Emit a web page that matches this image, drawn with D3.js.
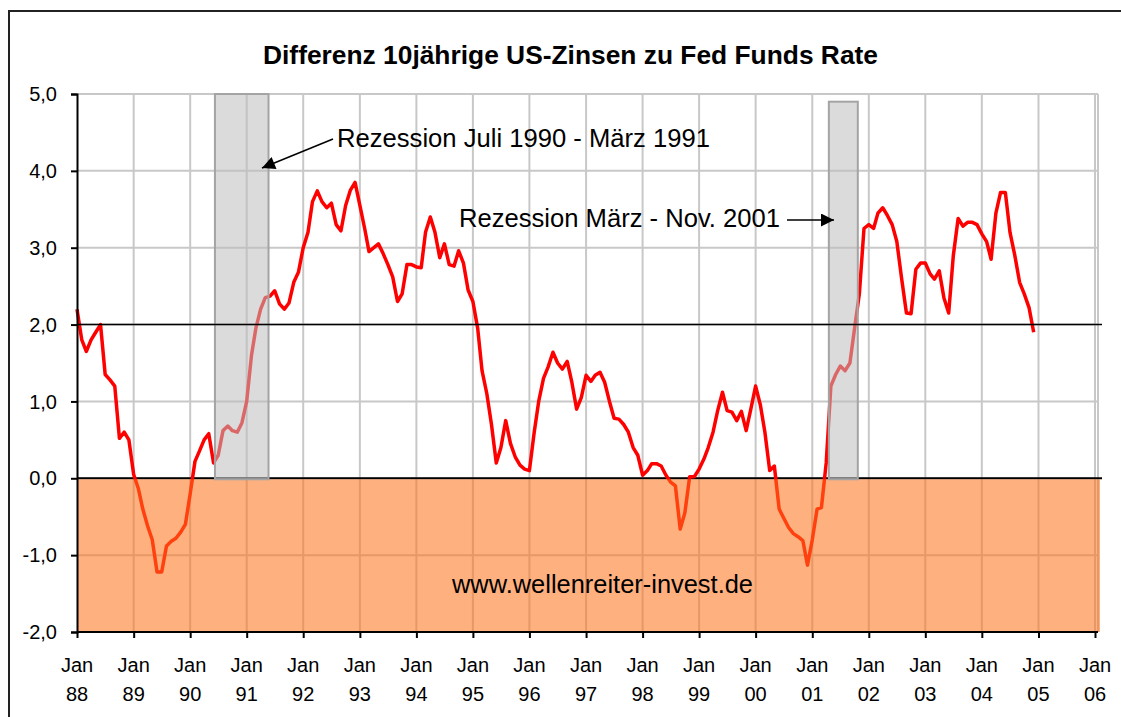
<!DOCTYPE html>
<html lang="de">
<head>
<meta charset="utf-8">
<title>Differenz 10jährige US-Zinsen zu Fed Funds Rate</title>
<script src="https://cdn.jsdelivr.net/npm/d3@7"></script>
<style>
  body { margin: 0; background: #fff; }
  text { font-family: "Liberation Sans", Arial, sans-serif; fill: #000; }
</style>
</head>
<body>
<script>

// Differenz 10J-Rendite minus Fed Funds, Monatswerte ab Jan 1988
var startYear = 1988;
var spread = [
  2.2, 1.8, 1.65, 1.8, 1.9, 2.0, 1.35, 1.28, 1.2, 0.52, 0.6, 0.5,            // 1988
  0.05, -0.14, -0.4, -0.62, -0.8, -1.22, -1.22, -0.88, -0.82, -0.78, -0.7, -0.6, // 1989
  -0.2, 0.22, 0.35, 0.5, 0.58, 0.2, 0.3, 0.62, 0.68, 0.62, 0.6, 0.72,        // 1990
  1.0, 1.6, 1.95, 2.2, 2.35, 2.37, 2.44, 2.27, 2.2, 2.28, 2.55, 2.68,        // 1991
  3.0, 3.2, 3.6, 3.74, 3.6, 3.52, 3.58, 3.3, 3.22, 3.55, 3.75, 3.85,         // 1992
  3.55, 3.25, 2.95, 3.0, 3.05, 2.92, 2.78, 2.62, 2.3, 2.4, 2.78, 2.78,       // 1993
  2.75, 2.74, 3.2, 3.4, 3.2, 2.87, 3.05, 2.78, 2.76, 2.96, 2.8, 2.45,        // 1994
  2.3, 1.95, 1.4, 1.1, 0.7, 0.2, 0.4, 0.75, 0.45, 0.28, 0.17, 0.12,          // 1995
  0.1, 0.6, 1.0, 1.3, 1.45, 1.64, 1.5, 1.42, 1.52, 1.25, 0.9, 1.05,          // 1996
  1.34, 1.26, 1.34, 1.38, 1.25, 1.0, 0.78, 0.77, 0.7, 0.6, 0.4, 0.3,         // 1997
  0.04, 0.1, 0.19, 0.19, 0.16, 0.04, -0.05, -0.1, -0.66, -0.45, 0.02, 0.02,  // 1998
  0.12, 0.25, 0.4, 0.6, 0.88, 1.12, 0.88, 0.86, 0.75, 0.87, 0.62, 0.9,       // 1999
  1.2, 0.95, 0.6, 0.1, 0.16, -0.4, -0.52, -0.64, -0.72, -0.76, -0.81, -1.13, // 2000
  -0.8, -0.4, -0.38, 0.2, 1.2, 1.35, 1.46, 1.4, 1.5, 1.95, 2.4, 3.25,        // 2001
  3.3, 3.25, 3.45, 3.52, 3.42, 3.3, 3.08, 2.6, 2.15, 2.14, 2.72, 2.8,        // 2002
  2.8, 2.66, 2.59, 2.7, 2.35, 2.15, 2.9, 3.38, 3.28, 3.33, 3.33, 3.3,        // 2003
  3.18, 3.08, 2.85, 3.45, 3.72, 3.72, 3.2, 2.9, 2.55, 2.4, 2.22, 1.9         // 2004
];

var yTicks = [5, 4, 3, 2, 1, 0, -1, -2];
var xYears = d3.range(1988, 2007);   // Jan 88 ... Jan 06

// Rezessionsbalken (wie im Bild gezeichnet)
var recessionStart = ["1990-06-10", "2001-04-18"];
var recessionEnd   = ["1991-05-22", "2001-10-22"];
var recessionTop   = [5.0, 4.9];

var chartTitle = "Differenz 10jährige US-Zinsen zu Fed Funds Rate";
var note1 = "Rezession Juli 1990 - März 1991";
var note2 = "Rezession März - Nov. 2001";
var watermark = "www.wellenreiter-invest.de";

var w = 1121, h = 717;
var pLeft = 77, pRight = 1098, pTop = 94, pBottom = 632;

var data = spread.map(function(v, i) {
  return { date: new Date(startYear, i, 1), v: v };
});

var x = d3.scaleTime()
          .domain([new Date(1988, 0, 1), new Date(2006, 0, 1)])
          .range([pLeft, 1095]);
var y = d3.scaleLinear().domain([-2, 5]).range([pBottom, pTop]);
var parse = d3.timeParse("%Y-%m-%d");

var svg = d3.select("body").append("svg")
            .attr("width", w)
            .attr("height", h);

svg.append("rect").attr("width", w).attr("height", h).attr("fill", "#fff");

// outer frame (runs off the right and bottom edge)
svg.append("path")
   .attr("d", "M9," + h + "V11H" + w)
   .attr("fill", "none")
   .attr("stroke", "#222")
   .attr("stroke-width", 2);

//Gridlines
svg.append("g").selectAll("line")
   .data(yTicks.filter(function(d) { return d > -2; }))
   .enter().append("line")
   .attr("x1", pLeft).attr("x2", pRight)
   .attr("y1", function(d) { return y(d); })
   .attr("y2", function(d) { return y(d); })
   .attr("stroke", "#c8c8c8").attr("stroke-width", 2);

svg.append("g").selectAll("line")
   .data(xYears.slice(1))
   .enter().append("line")
   .attr("x1", function(d) { return x(new Date(d, 0, 1)); })
   .attr("x2", function(d) { return x(new Date(d, 0, 1)); })
   .attr("y1", pTop).attr("y2", pBottom)
   .attr("stroke", "#c8c8c8").attr("stroke-width", 2);

svg.append("line")
   .attr("x1", pRight).attr("x2", pRight).attr("y1", pTop).attr("y2", pBottom)
   .attr("stroke", "#c8c8c8").attr("stroke-width", 2);

// zero line
svg.append("line")
   .attr("x1", pLeft).attr("x2", 1102)
   .attr("y1", y(0)).attr("y2", y(0))
   .attr("stroke", "#000").attr("stroke-width", 2);

// the spread
var line = d3.line()
             .x(function(d) { return x(d.date); })
             .y(function(d) { return y(d.v); });

svg.append("path")
   .datum(data)
   .attr("d", line)
   .attr("fill", "none")
   .attr("stroke", "#ff0000")
   .attr("stroke-width", 3.5)
   .attr("stroke-linejoin", "round");

// negative zone, semi transparent over the line
svg.append("rect")
   .attr("x", pLeft)
   .attr("y", y(0) + 1)
   .attr("width", 1100 - pLeft)
   .attr("height", pBottom - y(0) - 1)
   .attr("fill", "rgb(255,114,27)")
   .attr("fill-opacity", 0.56);

// recession bars
svg.append("g").selectAll("rect")
   .data(recessionStart)
   .enter().append("rect")
   .attr("x", function(d) { return x(parse(d)); })
   .attr("y", function(d, i) { return y(recessionTop[i]); })
   .attr("width", function(d, i) { return x(parse(recessionEnd[i])) - x(parse(d)); })
   .attr("height", function(d, i) { return y(0) + 1 - y(recessionTop[i]); })
   .attr("fill", "rgb(190,190,190)")
   .attr("fill-opacity", 0.55)
   .attr("stroke", "#a4a4a4")
   .attr("stroke-width", 2);

// 2,0 reference line
svg.append("line")
   .attr("x1", pLeft).attr("x2", 1102)
   .attr("y1", y(2)).attr("y2", y(2))
   .attr("stroke", "#000").attr("stroke-width", 1.5);

//Axes
var fmt = function(d) { return d3.format(".1f")(d).replace(".", ",").replace("\u2212", "-"); };

var yAxis = svg.append("g")
   .attr("transform", "translate(" + pLeft + ",0)")
   .call(d3.axisLeft(y).tickValues(yTicks).tickSize(6).tickPadding(14).tickFormat(fmt));
yAxis.select(".domain").attr("stroke", "#000").attr("stroke-width", 2);
yAxis.selectAll(".tick line").attr("stroke-width", 2);
yAxis.selectAll("text")
     .attr("font-size", 20)
     .attr("font-family", "'Liberation Sans', Arial, sans-serif")
     .attr("dy", "0.33em");

var xAxis = svg.append("g")
   .attr("transform", "translate(0," + pBottom + ")")
   .call(d3.axisBottom(x)
           .tickValues(xYears.map(function(d) { return new Date(d, 0, 1); }))
           .tickSize(6)
           .tickSizeOuter(0)
           .tickFormat(""));
xAxis.select(".domain").attr("d", "M" + pLeft + ",0H" + pRight).attr("stroke", "#000").attr("stroke-width", 2);
xAxis.selectAll(".tick line").attr("stroke-width", 2);

var xl = svg.append("g").selectAll("g")
   .data(xYears)
   .enter().append("g")
   .attr("transform", function(d) { return "translate(" + x(new Date(d, 0, 1)) + ",0)"; });
xl.append("text")
  .attr("y", 672).attr("text-anchor", "middle").attr("font-size", 20)
  .text("Jan");
xl.append("text")
  .attr("y", 701).attr("text-anchor", "middle").attr("font-size", 20)
  .text(function(d) { return String(d).slice(2); });

//Title and notes
svg.append("text")
   .attr("x", 263).attr("y", 64)
   .attr("font-size", 25).attr("font-weight", "bold")
   .attr("textLength", 615).attr("lengthAdjust", "spacingAndGlyphs")
   .text(chartTitle);

svg.append("text")
   .attr("x", 337).attr("y", 147).attr("font-size", 25)
   .attr("textLength", 373).attr("lengthAdjust", "spacingAndGlyphs")
   .text(note1);

svg.append("text")
   .attr("x", 459).attr("y", 227).attr("font-size", 25)
   .attr("textLength", 321).attr("lengthAdjust", "spacingAndGlyphs")
   .text(note2);

svg.append("text")
   .attr("x", 452).attr("y", 593).attr("font-size", 25)
   .attr("textLength", 301).attr("lengthAdjust", "spacingAndGlyphs")
   .text(watermark);

// arrows
svg.append("defs").append("marker")
   .attr("id", "head")
   .attr("viewBox", "0 0 10 10")
   .attr("refX", 10).attr("refY", 5)
   .attr("markerUnits", "userSpaceOnUse")
   .attr("markerWidth", 15).attr("markerHeight", 13)
   .attr("orient", "auto")
   .append("path").attr("d", "M0,0L10,5L0,10z").attr("fill", "#000");

svg.append("line")
   .attr("x1", 333).attr("y1", 139).attr("x2", 262).attr("y2", 168)
   .attr("stroke", "#000").attr("stroke-width", 1.5)
   .attr("marker-end", "url(#head)");

svg.append("line")
   .attr("x1", 787).attr("y1", 220).attr("x2", 834).attr("y2", 220)
   .attr("stroke", "#000").attr("stroke-width", 1.5)
   .attr("marker-end", "url(#head)");

</script>
</body>
</html>
